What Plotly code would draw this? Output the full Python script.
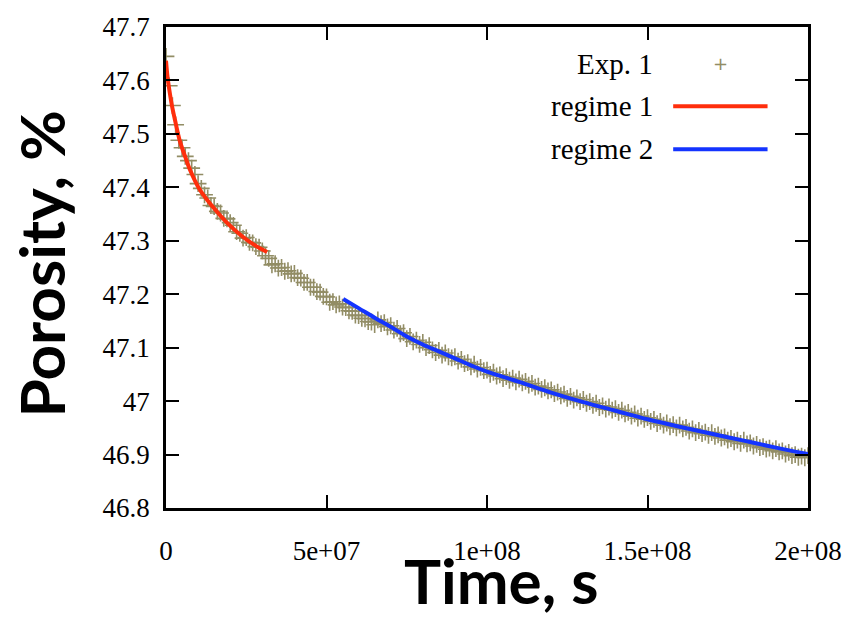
import plotly.graph_objects as go

# ---- data (time in units of 1e6 s) ----
exp_t_e6 = list(range(0, 201))
exp_porosity = [
    47.645, 47.590, 47.553, 47.517, 47.488, 47.474, 47.458, 47.450, 47.436, 47.424,
    47.407, 47.398, 47.386, 47.380, 47.366, 47.364, 47.355, 47.352, 47.342, 47.341,
    47.334, 47.329, 47.317, 47.314, 47.305, 47.306, 47.297, 47.296, 47.289, 47.288,
    47.281, 47.272, 47.267, 47.255, 47.257, 47.249, 47.250, 47.243, 47.244, 47.238,
    47.239, 47.231, 47.230, 47.222, 47.222, 47.213, 47.213, 47.205, 47.204, 47.196,
    47.195, 47.185, 47.186, 47.180, 47.182, 47.176, 47.175, 47.169, 47.168, 47.161,
    47.160, 47.155, 47.154, 47.149, 47.148, 47.143, 47.152, 47.145, 47.147, 47.139,
    47.141, 47.133, 47.136, 47.126, 47.128, 47.117, 47.121, 47.111, 47.114, 47.106,
    47.110, 47.100, 47.104, 47.096, 47.091, 47.095, 47.086, 47.090, 47.083, 47.081,
    47.083, 47.075, 47.078, 47.070, 47.072, 47.064, 47.069, 47.060, 47.063, 47.057,
    47.058, 47.050, 47.054, 47.047, 47.049, 47.042, 47.046, 47.039, 47.043, 47.036,
    47.041, 47.034, 47.037, 47.030, 47.033, 47.026, 47.028, 47.022, 47.025, 47.019,
    47.021, 47.014, 47.017, 47.010, 47.013, 47.005, 47.009, 47.002, 47.006, 46.999,
    47.003, 46.996, 46.999, 46.992, 46.996, 46.988, 46.991, 46.985, 46.989, 46.983,
    46.986, 46.979, 46.983, 46.976, 46.979, 46.972, 46.976, 46.968, 46.972, 46.966,
    46.969, 46.962, 46.966, 46.958, 46.962, 46.955, 46.959, 46.952, 46.956, 46.950,
    46.955, 46.948, 46.951, 46.944, 46.948, 46.941, 46.945, 46.939, 46.942, 46.936,
    46.941, 46.934, 46.937, 46.931, 46.933, 46.927, 46.930, 46.924, 46.927, 46.921,
    46.927, 46.920, 46.922, 46.916, 46.919, 46.913, 46.915, 46.910, 46.912, 46.907,
    46.911, 46.905, 46.907, 46.901, 46.904, 46.898, 46.900, 46.895, 46.897, 46.894,
    46.898,
]

regime1_t_e6 = [0, 0.5, 1.2, 2, 2.8, 4.3, 6, 7.4, 10.5, 14.5, 18.8, 23.8, 28.1, 31.5]
regime1_porosity = [47.637, 47.605, 47.576, 47.548, 47.526, 47.487, 47.457, 47.434,
                    47.396, 47.364, 47.335, 47.308, 47.290, 47.279]

regime2_t_e6 = [55.2, 60, 65, 70, 75, 80, 85, 90, 95, 100, 110, 120, 130, 140,
                150, 160, 170, 180, 190, 200]
regime2_porosity = [47.191, 47.174, 47.156, 47.139, 47.121, 47.106, 47.093, 47.080,
                    47.067, 47.055, 47.036, 47.016, 46.998, 46.982, 46.966, 46.952,
                    46.939, 46.926, 46.913, 46.901]

x_tickvals = [0, 5e7, 1e8, 1.5e8, 2e8]
x_ticktext = ["0", "5e+07", "1e+08", "1.5e+08", "2e+08"]
y_tickvals = [46.8, 46.9, 47.0, 47.1, 47.2, 47.3, 47.4, 47.5, 47.6, 47.7]
y_ticktext = ["46.8", "46.9", "47", "47.1", "47.2", "47.3", "47.4", "47.5", "47.6", "47.7"]

legend_names = ["Exp. 1", "regime 1", "regime 2"]

OLIVE = "#928d65"
RED = "#ff2e0c"
BLUE = "#1434ff"

def sec(v):
    return [t * 1e6 for t in v]

fig = go.Figure()
fig.add_trace(go.Scatter(
    x=sec(exp_t_e6), y=exp_porosity, mode="markers", name=legend_names[0],
    marker=dict(symbol="cross-thin", size=12, line=dict(color=OLIVE, width=1.6), color=OLIVE),
))
fig.add_trace(go.Scatter(
    x=sec(regime1_t_e6), y=regime1_porosity, mode="lines", name=legend_names[1],
    line=dict(color=RED, width=4, shape="spline"),
))
fig.add_trace(go.Scatter(
    x=sec(regime2_t_e6), y=regime2_porosity, mode="lines", name=legend_names[2],
    line=dict(color=BLUE, width=4, shape="spline"),
))

tick_font = dict(family="Liberation Serif, Times New Roman, serif", size=27, color="black")
title_font = dict(family="Lato, Roboto, sans-serif", size=62, color="black", weight="bold")

fig.update_layout(
    width=854, height=617,
    margin=dict(l=166, r=39, t=23, b=109),
    paper_bgcolor="white", plot_bgcolor="white",
    showlegend=False,
    xaxis=dict(range=[0, 2e8], tickvals=x_tickvals, ticktext=x_ticktext,
               ticks="inside", ticklen=13, tickwidth=2, tickcolor="black",
               showline=True, linewidth=2.5, linecolor="black", mirror="ticks",
               showgrid=False, zeroline=False, tickfont=tick_font,
               ticklabelstandoff=17),
    yaxis=dict(range=[46.8, 47.7], tickvals=y_tickvals, ticktext=y_ticktext,
               ticks="inside", ticklen=13, tickwidth=2, tickcolor="black",
               showline=True, linewidth=2.5, linecolor="black", mirror="ticks",
               showgrid=False, zeroline=False, tickfont=tick_font,
               ticklabelstandoff=8),
)

# axis titles
fig.add_annotation(text="Time, s", xref="paper", yref="paper", x=0.522, y=-0.15,
                   xanchor="center", yanchor="middle", showarrow=False, font=title_font)
fig.add_annotation(text="Porosity, %", xref="paper", yref="paper", x=-0.195, y=0.508,
                   xanchor="center", yanchor="middle", showarrow=False, textangle=-90,
                   font=title_font)

# gnuplot-style key (text right-aligned, sample on the right)
legend_font = dict(family="Liberation Serif, Times New Roman, serif", size=29, color="black")
key_y = [0.924, 0.835, 0.746]
for name, ky in zip(legend_names, key_y):
    fig.add_annotation(text=name, xref="paper", yref="paper", x=0.761, y=ky,
                       xanchor="right", yanchor="middle", showarrow=False, font=legend_font)
fig.add_annotation(text="+", xref="paper", yref="paper", x=0.864, y=key_y[0],
                   xanchor="center", yanchor="middle", showarrow=False,
                   font=dict(family="DejaVu Sans", size=18, color=OLIVE))
for ky, col in zip(key_y[1:], [RED, BLUE]):
    fig.add_shape(type="line", xref="paper", yref="paper", x0=0.790, x1=0.937,
                  y0=ky, y1=ky, line=dict(color=col, width=4))

fig.write_html("out.html")
